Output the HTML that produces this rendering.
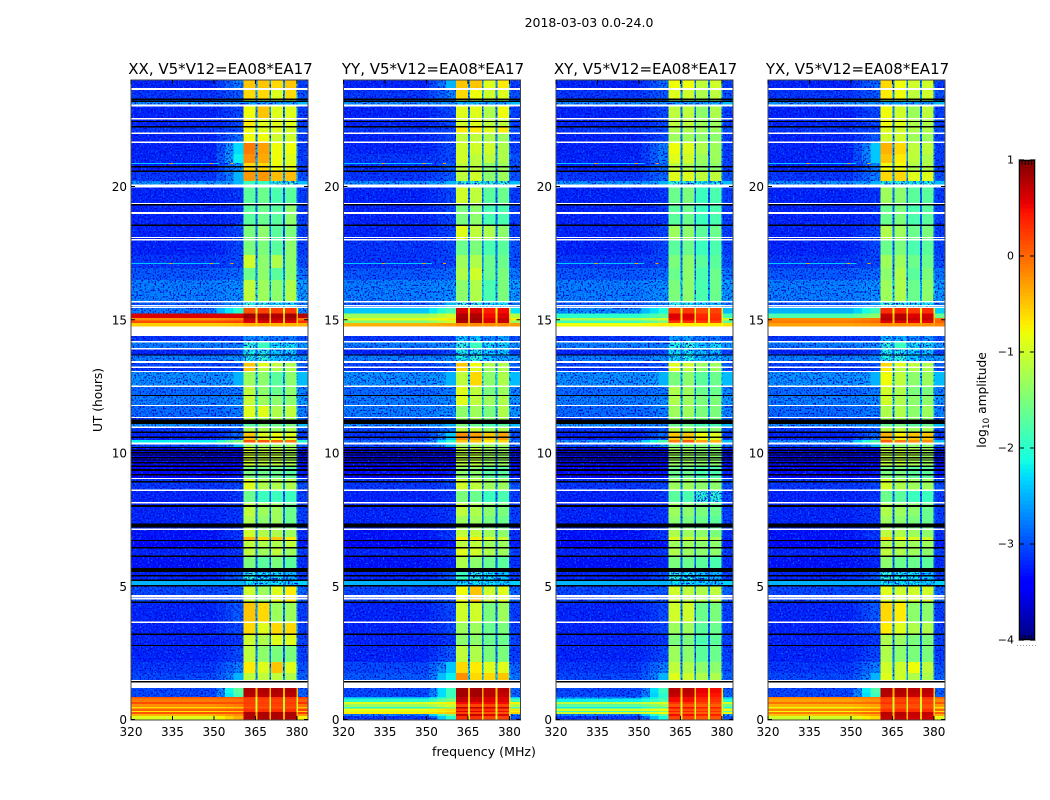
<!DOCTYPE html>
<html>
<head>
<meta charset="utf-8">
<title>2018-03-03 dynamic spectra</title>
<style>
html,body{margin:0;padding:0;background:#fff;}
svg{display:block;}
text{font-family:"DejaVu Sans","Liberation Sans",sans-serif;fill:#000;}
</style>
</head>
<body>
<svg id="chart" xmlns="http://www.w3.org/2000/svg" width="1050" height="800" viewBox="0 0 1050 800">
<defs>
<filter id="speckle" filterUnits="userSpaceOnUse" x="0" y="0" width="1050" height="800" color-interpolation-filters="sRGB">
<feTurbulence type="fractalNoise" baseFrequency="0.6" numOctaves="1" seed="4" result="n"/>
<feColorMatrix in="n" type="matrix" values="0 0 0 0 0  0 0 0 0 0.42  0 0 0 0 1  5 0 0 0 -2.7" result="light"/>
<feColorMatrix in="n" type="matrix" values="0 0 0 0 0  0 0 0 0 0  0 0 0 0 0.8  0 5 0 0 -2.5" result="dark"/>
<feMerge result="m"><feMergeNode in="light"/><feMergeNode in="dark"/></feMerge>
<feComposite in="m" in2="SourceAlpha" operator="in"/>
</filter>
</defs>
<text x="589" y="27" font-size="12.5" text-anchor="middle">2018-03-03 0.0-24.0</text>
<text x="484" y="756" font-size="12.6" text-anchor="middle">frequency (MHz)</text>
<text x="102" y="400" font-size="12.2" text-anchor="middle" transform="rotate(-90 102 400)">UT (hours)</text>
<text x="986" y="400" font-size="12.2" text-anchor="middle" transform="rotate(-90 986 400)">log<tspan font-size="9" dy="3">10</tspan><tspan dy="-3"> amplitude</tspan></text>
</svg>
<script>
const rowTopHours = [24.00,23.66,23.29,23.19,23.06,22.57,22.23,21.97,21.63,21.22,20.88,20.54,20.21,20.02,19.34,18.56,17.99,17.43,16.94,16.49,15.70,15.46,15.23,15.07,14.97,14.88,14.75,14.39,14.16,13.90,13.68,13.41,13.23,13.06,12.48,12.14,11.76,11.35,11.09,10.94,10.75,10.49,10.39,10.23,9.51,9.02,8.61,8.12,7.64,7.11,6.85,6.74,6.47,6.14,5.68,5.53,5.20,5.01,4.37,3.66,3.21,2.76,2.16,1.74,1.45,1.18,1.00,0.84,0.79,0.66,0.58,0.47,0.41,0.32,0.28,0.21,0.13,0.00];
const channelEdges = [320,351,354,357,360.6,365.1,365.7,370,370.7,375,375.7,379.9,380.4,384];
const flaggedHours = [[23.69,23.63],[23.07,23.00],[22.57,22.52],[22.02,21.97],[21.68,21.63],[20.07,19.96],[19.39,19.34],[19.04,18.97],[18.11,18.07],[18.03,17.99],[15.70,15.65],[15.56,15.52],[15.50,15.45],[14.75,14.39],[14.20,14.15],[13.94,13.90],[13.46,13.38],[13.24,13.19],[13.08,13.04],[12.54,12.48],[11.81,11.76],[11.36,11.31],[10.99,10.93],[10.39,10.31],[9.07,9.02],[8.63,8.59],[8.16,8.11],[7.17,7.11],[4.67,4.60],[4.57,4.51],[3.67,3.62],[1.49,1.44],[1.38,1.18]];
const maskedHours = [[23.30,23.25],[23.22,23.18],[22.46,22.43],[22.27,22.23],[20.77,20.72],[20.60,20.55],[19.34,19.30],[18.58,18.52],[13.70,13.65],[12.18,12.14],[11.26,11.09],[10.80,10.75],[10.62,10.58],[10.23,10.18],[10.13,10.08],[10.04,9.99],[9.95,9.90],[9.85,9.80],[9.76,9.71],[9.66,9.61],[9.53,9.49],[9.40,9.33],[9.21,9.17],[8.95,8.91],[8.05,7.97],[7.35,7.21],[6.74,6.70],[6.47,6.44],[6.15,6.11],[5.68,5.53],[5.42,5.38],[5.25,5.21],[5.04,4.99],[4.42,4.37],[3.23,3.18],[2.80,2.76],[1.44,1.38]];
const rfiHours = [20.87,17.12,13.06];
const rfiFreqs = [334,348.5,356];
const xTicks = [320,335,350,365,380];
const yTicks = [0,5,10,15,20];
const colorbarTicks = [1,0,-1,-2,-3,-4];
const polarizations = ["XX","YY","XY","YX"];
const baselineLabel = "V5*V12=EA08*EA17";

/* each row: background, shoulder, band1, band2, band3, band4 (log10 amplitude) */
const levelsXX = [
[-3.2,-2.7,-.5,-.5,-.6,-.5],[-3.1,-2.9,-.6,-.6,-.9,-.6],[-3,-2.9,-1.2,-1.2,-1.2,-1.2],[-2.6,-2.6,-2.5,-2.5,-2.5,-2.5],[-3.2,-3,-.8,-.5,-.9,-.9],
[-3.2,-3,-.7,-.9,-.9,-.9],[-3.1,-3,-.8,-.9,-.9,-1],[-3.2,-2.8,-.8,-.8,-1,-1],[-3.2,-2.3,-.1,-.3,-.8,-.8],[-3.2,-2.2,-.2,-.35,-.8,-.9],
[-3.2,-2.6,-.6,-.6,-.8,-.9],[-3.1,-2.5,-.25,-.25,-.45,-.45],[-2.6,-2.5,-1.9,-1.9,-2,-2],[-3.2,-3.1,-1.7,-1.6,-1.8,-1.7],[-3.2,-3.1,-1.7,-1.6,-1.7,-1.4],
[-3.2,-3,-1.5,-1.4,-1.7,-1.5],[-3.2,-3,-1.5,-1.5,-1.7,-1.4],[-3.1,-3,-1,-1.4,-1.2,-1.4],[-2.9,-2.8,-1.6,-1.4,-1.7,-1.4],[-2.7,-2.6,-1.1,-1.3,-1.4,-1.2],
[-2.9,-2.6,-2,-2,-2.2,-2.2],[-2.7,-2,.1,.2,.2,.25],[.6,.6,.85,.85,.8,.85],[-.2,-.1,.7,.75,.7,.75],[.15,.2,.6,.6,.6,.6],
[-.55,-.5,-.4,-.4,-.4,-.4],[-3,-3,-3,-3,-3,-3],[-3.1,-3,-2.6,-2.6,-2.7,-2.7],[-2.7,-2.7,-2,-1.9,-2.2,-2.2],[-3.2,-3,-2.1,-2.1,-2.3,-2.3],
[-2.7,-2.6,-2.1,-2,-2.3,-2.4],[-3,-2.9,-.5,-.9,-1.1,-1.2],[-3.1,-3,-.5,-1.1,-1.2,-1.2],[-2.6,-2.5,-1.3,-1.4,-1.7,-1.4],[-2.8,-2.7,-1.1,-1.4,-1.6,-1.4],
[-2.7,-2.6,-1.05,-1.3,-1.4,-1.4],[-2.8,-2.7,-.9,-.9,-1.2,-1.1],[-3,-3,-1.2,-1.3,-1.3,-1.3],[-2.6,-2.6,-1.7,-1.5,-1.6,-1.5],[-3.1,-2.9,-1.2,-1.2,-1.3,-1.2],
[-3.2,-2.8,-.5,-.9,-.8,-.9],[-2.2,-1.5,.1,.1,0,-.1],[-3,-2.5,-1.3,-1.3,-1.3,-1.3],[-3.5,-3.4,-1,-1.1,-1.1,-1.2],[-3.4,-3.3,-1.5,-1.6,-1.6,-1.7],
[-3.1,-3,-.9,-1.2,-1.2,-1.2],[-3.2,-3.1,-1.6,-1.9,-1.9,-1.9],[-3.2,-3.1,-1.1,-1.3,-1.3,-1.6],[-3.2,-3.1,-1.2,-1.4,-1.3,-1.6],[-3.3,-3.1,-1,-1.2,-1.2,-1.3],
[-3.3,-3.1,-.4,-.6,-.5,-.7],[-3.4,-3.3,-1.1,-1.2,-1.2,-1.1],[-3.2,-3.1,-1.1,-1.3,-1.1,-1.3],[-3.3,-3.2,-1.5,-1.7,-1.5,-1.7],[-3.4,-3.4,-2,-2,-2,-2],
[-3.2,-2.9,-2,-2.2,-2.2,-2.4],[-2.5,-2.5,-2.2,-2.2,-2.2,-2.3],[-3,-2.9,-1,-1.3,-.9,-.7],[-3.2,-2.9,-.5,-.6,-1.3,-1.3],[-3.2,-3,-.6,-.9,-.6,-.6],
[-3.2,-3.1,-1,-1.2,-.9,-.9],[-3.2,-3,-1.1,-1.4,-1.5,-1.5],[-3.1,-2.7,-.7,-.9,-.5,-.9],[-3,-2.5,-1.1,-1.1,-1.1,-1.2],[-3,-3,-3,-3,-3,-3],
[-3,-1.7,.8,.8,.8,.8],[-3,-1.8,.75,.75,.75,.75],[.1,.1,.3,.3,.3,.3],[-.1,-.05,.2,.2,.2,.2],[.15,.15,.25,.25,.25,.25],
[-.2,-.1,.2,.2,.2,.2],[-.6,-.5,.1,.1,.1,.1],[.05,.1,.3,.3,.3,.3],[-.7,-.5,.3,.3,.3,.3],[.1,.1,.8,.8,.8,.8],
[-.4,-.2,.8,.8,.8,.8],[-.9,-.4,.8,.8,.8,.8]];

const levelsYY = [
[-3.2,-2.5,-.5,-.5,-.9,-.7],[-3.1,-2.7,-.6,-.8,-1,-.9],[-3,-2.8,-1.2,-1.2,-1.3,-1.3],[-2.6,-2.6,-2.4,-2.4,-2.5,-2.5],[-3.2,-3,-.9,-.9,-1.2,-.8],
[-3.2,-3,-1,-.9,-1.1,-1.1],[-3.1,-3,-.7,-.7,-.9,-.7],[-3.2,-3,-1.1,-1.1,-1.2,-1.3],[-3.2,-3,-1,-1,-1,-1.2],[-3.1,-3,-1,-1.1,-1.1,-1.2],
[-3.1,-2.9,-1.1,-1.1,-1.4,-1.3],[-3.1,-2.9,-1.1,-1,-1.4,-1.3],[-2.6,-2.5,-2,-2,-2,-2],[-3.2,-3,-1,-1.1,-1.7,-1.6],[-3.2,-3,-1.5,-1.4,-1.8,-1.8],
[-3.2,-3,-.9,-1.1,-1.2,-1.4],[-3.1,-3,-1.6,-1.5,-1.8,-1.7],[-3.1,-3,-1.3,-1.2,-1.6,-1.6],[-2.9,-2.8,-1.2,-1,-1.6,-1.5],[-2.7,-2.6,-1.4,-1.2,-1.8,-1.5],
[-2.9,-2.5,-2,-2,-2.2,-2.2],[-2.4,-1.8,.6,.6,.4,.5],[-1.3,-1,.8,.8,.5,.6],[-.9,-.7,.85,.85,.6,.7],[-1.5,-1,.8,.8,.6,.7],
[-.4,-.3,-.2,-.2,-.2,-.2],[-3,-3,-3,-3,-3,-3],[-3.1,-3,-2.3,-2.3,-2.6,-2.5],[-2.7,-2.6,-2,-1.9,-2.2,-2.2],[-3.2,-3,-2.1,-2.1,-2.3,-2.3],
[-2.7,-2.6,-2.1,-2,-2.3,-2.4],[-3,-2.8,-.5,-.8,-1.2,-1.2],[-3.1,-3,-.6,-.9,-1.3,-1.2],[-2.6,-2.5,-1.1,-.6,-1.4,-1.2],[-2.8,-2.7,-.9,-1.1,-1.5,-1.3],
[-2.7,-2.6,-.9,-1.1,-1.3,-1.2],[-2.7,-2.6,-1.4,-1.3,-1.5,-1.2],[-3,-3,-1.3,-1.3,-1.4,-1.3],[-2.6,-2.5,-1.5,-1.6,-1.8,-1.7],[-3,-2.7,-1.1,-1.1,-1.3,-1.2],
[-3.1,-2.4,-.2,-.3,-.5,-.3],[-2.8,-2,-.5,-.5,-.7,-.6],[-3,-2.5,-1.3,-1.3,-1.3,-1.3],[-3.5,-3.4,-1.1,-1.1,-1.3,-1.3],[-3.4,-3.3,-1.4,-1.4,-1.7,-1.7],
[-3.1,-3,-1,-1.1,-1.3,-1.3],[-3.2,-3.1,-1.5,-1.6,-1.9,-1.8],[-3.2,-3.1,-1.1,-1.2,-1.4,-1.5],[-3.2,-3.1,-1.3,-1.3,-1.5,-1.6],[-3.3,-3.1,-1.1,-1.1,-1.3,-1.4],
[-3.3,-3.1,-.7,-.7,-.9,-1],[-3.4,-3.3,-1.1,-1.1,-1.3,-1.3],[-3.2,-3.1,-.9,-1,-1.2,-1.3],[-3.3,-3.2,-1.2,-1.4,-1.6,-1.7],[-3.4,-3.4,-2,-2,-2,-2],
[-3.2,-2.9,-1.9,-2,-2.2,-2.3],[-2.5,-2.5,-2.2,-2.2,-2.2,-2.3],[-3,-2.9,-.8,-.5,-1,-.9],[-3.2,-3,-1,-1,-1.5,-1.3],[-3.2,-3,-1.3,-1.3,-1.6,-1.5],
[-3.2,-3.1,-1.4,-1.4,-1.6,-1.6],[-3.2,-2.9,-1.1,-1.2,-1.5,-1.5],[-3,-2.4,-.6,-.7,-.9,-.9],[-2.9,-2.2,-.2,-.6,-.6,-.5],[-3,-3,-3,-3,-3,-3],
[-3,-1.9,.85,.85,.75,.75],[-3,-1.9,.85,.85,.75,.7],[-2.5,-1.8,.7,.7,.6,.6],[-2,-1.5,.7,.7,.6,.6],[-.9,-.7,.5,.5,.5,.5],
[-1.3,-1,.2,.2,.2,.2],[-2,-1.5,.75,.75,.7,.7],[-.8,-.6,.3,.3,.3,.2],[-.9,-.7,.6,.6,.5,.5],[-.7,-.5,.2,.2,.1,.1],
[-2.7,-1.5,.7,.7,.6,.6],[-3.1,-2,.3,.3,.2,.2]];

const levelsXY = [
[-3.2,-2.8,-.8,-.8,-1.1,-1],[-3.1,-2.9,-.9,-1,-1.2,-1.1],[-3,-2.9,-1.4,-1.4,-1.5,-1.5],[-2.6,-2.6,-2.5,-2.5,-2.5,-2.5],[-3.2,-3,-1.1,-1.1,-1.4,-1.2],
[-3.2,-3,-1.1,-1.1,-1.3,-1.3],[-3.1,-3,-1.2,-1.2,-1.3,-1.3],[-3.2,-3,-1.3,-1.3,-1.4,-1.4],[-3.2,-2.7,-.8,-.9,-1.2,-1.3],[-3.2,-2.7,-.9,-1,-1.3,-1.3],
[-3.2,-2.8,-1.1,-1.2,-1.4,-1.4],[-3.1,-2.8,-.9,-.9,-1.1,-1.1],[-2.6,-2.5,-2,-2,-2.1,-2.1],[-3.2,-3.1,-1.6,-1.5,-1.9,-1.8],[-3.2,-3.1,-1.7,-1.6,-1.9,-1.8],
[-3.2,-3,-1.3,-1.4,-1.7,-1.6],[-3.2,-3,-1.7,-1.6,-1.9,-1.8],[-3.1,-3,-1.5,-1.4,-1.7,-1.7],[-2.9,-2.8,-1.6,-1.4,-1.8,-1.6],[-2.7,-2.6,-1.5,-1.4,-1.8,-1.6],
[-2.9,-2.7,-2.1,-2.1,-2.3,-2.3],[-2.6,-2.1,.2,.25,.15,.2],[-2,-1.7,.6,.6,.35,.3],[-1.2,-1,.55,.55,.4,.35],[-1.9,-1.5,.3,.3,.25,.2],
[-.8,-.7,-.7,-.7,-.7,-.7],[-3,-3,-3,-3,-3,-3],[-3.1,-3,-2.5,-2.5,-2.7,-2.7],[-2.7,-2.7,-2.1,-2,-2.3,-2.2],[-3.2,-3,-2.2,-2.2,-2.4,-2.4],
[-2.7,-2.6,-2.2,-2.1,-2.4,-2.4],[-3,-2.9,-.9,-1,-1.3,-1.3],[-3.1,-3,-.9,-1.1,-1.4,-1.3],[-2.6,-2.5,-1.5,-1.4,-1.7,-1.6],[-2.8,-2.7,-1.2,-1.3,-1.6,-1.6],
[-2.7,-2.6,-1.2,-1.3,-1.5,-1.5],[-2.8,-2.7,-1.3,-1.3,-1.5,-1.5],[-3,-3,-1.4,-1.4,-1.5,-1.5],[-2.6,-2.6,-1.6,-1.6,-1.8,-1.8],[-3.1,-2.9,-1.2,-1.3,-1.4,-1.4],
[-3.2,-2.8,-.5,-.5,-.8,-.9],[-2.6,-1.8,-.1,.05,-.3,-.4],[-3,-2.6,-1.5,-1.5,-1.5,-1.5],[-3.5,-3.4,-1.3,-1.3,-1.4,-1.4],[-3.4,-3.3,-1.6,-1.6,-1.8,-1.8],
[-3.1,-3,-1.3,-1.3,-1.4,-1.4],[-3.2,-3.1,-1.7,-1.8,-2,-2],[-3.2,-3.1,-1.3,-1.4,-1.5,-1.6],[-3.2,-3.1,-1.4,-1.5,-1.6,-1.7],[-3.3,-3.1,-1.2,-1.3,-1.4,-1.5],
[-3.3,-3.1,-.9,-1,-1.1,-1.2],[-3.4,-3.3,-1.3,-1.3,-1.4,-1.4],[-3.2,-3.1,-1.2,-1.3,-1.4,-1.4],[-3.3,-3.2,-1.5,-1.6,-1.7,-1.8],[-3.4,-3.4,-2,-2,-2,-2],
[-3.2,-3,-2,-2.1,-2.3,-2.4],[-2.5,-2.5,-2.2,-2.2,-2.3,-2.3],[-3,-2.9,-1,-1.1,-1.2,-1.1],[-3.2,-3,-1,-1,-1.6,-1.5],[-3.2,-3,-1.3,-1.3,-1.7,-1.6],
[-3.2,-3.1,-1.5,-1.5,-1.8,-1.7],[-3.2,-3,-1.3,-1.4,-1.7,-1.6],[-3.1,-2.7,-1.1,-1.2,-1.4,-1.4],[-3,-2.5,-.9,-1,-1.2,-1.2],[-3,-3,-3,-3,-3,-3],
[-3,-1.9,.75,.75,.55,.5],[-3,-2,.7,.7,.5,.45],[-2.6,-2,.5,.5,.4,.35],[-2.2,-1.8,.5,.5,.35,.3],[-1.1,-.9,.3,.3,.2,.2],
[-1.7,-1.3,.1,.1,.05,.05],[-2.2,-1.8,.5,.5,.4,.4],[-.9,-.8,.15,.15,.1,.1],[-1.9,-1.5,.4,.4,.3,.3],[-1,-.8,.1,.1,.05,.05],
[-2.7,-1.7,.5,.5,.4,.4],[-3.1,-2.1,.2,.2,.1,.1]];

const levelsYX = [
[-3.2,-2.8,-.6,-.8,-1,-1],[-3.1,-2.9,-.7,-.8,-1.1,-1],[-3,-2.9,-1.3,-1.3,-1.4,-1.4],[-2.6,-2.6,-2.5,-2.5,-2.5,-2.5],[-3.2,-3,-.8,-1,-1.3,-1.1],
[-3.2,-3,-.8,-.9,-1.2,-1.2],[-3.1,-3,-.9,-1,-1.2,-1.2],[-3.2,-2.9,-1,-1,-1.3,-1.3],[-3.2,-2.4,-.4,-.6,-1.1,-1.1],[-3.2,-2.4,-.5,-.7,-1.1,-1.2],
[-3.2,-2.7,-.8,-.8,-1.2,-1.2],[-3.1,-2.7,-.6,-.6,-.9,-.9],[-2.6,-2.5,-2,-2,-2.1,-2.1],[-3.2,-3.1,-1.3,-1.4,-1.7,-1.7],[-3.2,-3.1,-1.6,-1.5,-1.8,-1.7],
[-3.2,-3,-1.2,-1.3,-1.6,-1.5],[-3.2,-3,-1.6,-1.5,-1.8,-1.7],[-3.1,-3,-1.3,-1.3,-1.6,-1.6],[-2.9,-2.8,-1.4,-1.2,-1.7,-1.5],[-2.7,-2.6,-1.3,-1.2,-1.6,-1.4],
[-2.9,-2.6,-2,-2,-2.2,-2.2],[-2.5,-1.9,.3,.35,.25,.3],[-1.8,-1.4,.7,.75,.6,.65],[-.2,-.1,.75,.8,.7,.7],[-.1,0,.6,.6,.55,.55],
[-.3,-.25,-.2,-.2,-.2,-.2],[-3,-3,-3,-3,-3,-3],[-3.1,-3,-2.4,-2.4,-2.6,-2.6],[-2.7,-2.6,-2,-1.9,-2.2,-2.2],[-3.2,-3,-2.1,-2.1,-2.3,-2.3],
[-2.7,-2.6,-2.1,-2,-2.3,-2.4],[-3,-2.9,-.6,-.9,-1.1,-1.2],[-3.1,-3,-.7,-1.1,-1.2,-1.2],[-2.6,-2.5,-.8,-1.1,-1.4,-1.3],[-2.8,-2.7,-1,-1.2,-1.5,-1.5],
[-2.7,-2.6,-1,-1.2,-1.4,-1.4],[-2.8,-2.7,-1.2,-1.2,-1.4,-1.3],[-3,-3,-1.3,-1.3,-1.4,-1.4],[-2.6,-2.6,-1.6,-1.5,-1.7,-1.6],[-3.1,-2.9,-1.1,-1.1,-1.3,-1.2],
[-3.2,-2.8,-.4,-.7,-.5,-.5],[-2.6,-1.8,.05,-.1,-.2,-.2],[-3,-2.5,-1.4,-1.4,-1.4,-1.4],[-3.5,-3.4,-1.1,-1.1,-1.2,-1.3],[-3.4,-3.3,-1.5,-1.5,-1.7,-1.7],
[-3.1,-3,-1,-1.2,-1.3,-1.3],[-3.2,-3.1,-1.6,-1.7,-1.9,-1.9],[-3.2,-3.1,-1.2,-1.3,-1.4,-1.6],[-3.2,-3.1,-1.3,-1.4,-1.5,-1.6],[-3.3,-3.1,-1.1,-1.2,-1.3,-1.4],
[-3.3,-3.1,-.6,-.8,-.9,-1],[-3.4,-3.3,-1.2,-1.2,-1.3,-1.3],[-3.2,-3.1,-1.1,-1.2,-1.3,-1.4],[-3.3,-3.2,-1.4,-1.6,-1.6,-1.7],[-3.4,-3.4,-2,-2,-2,-2],
[-3.2,-2.9,-2,-2.1,-2.2,-2.3],[-2.5,-2.5,-2.2,-2.2,-2.2,-2.3],[-3,-2.9,-.9,-1,-1,-1],[-3.2,-2.9,-.6,-.7,-1.4,-1.4],[-3.2,-3,-.7,-.9,-1.2,-1.2],
[-3.2,-3.1,-1.2,-1.3,-1.5,-1.5],[-3.2,-3,-1.2,-1.4,-1.5,-1.5],[-3.1,-2.7,-1,-1,-.8,-1.1],[-3,-2.5,-.9,-1,-1.2,-1.2],[-3,-3,-3,-3,-3,-3],
[-3,-1.8,.8,.8,.75,.75],[-3,-1.9,.75,.75,.7,.7],[-.1,-.1,.3,.3,.3,.3],[-.3,-.2,.2,.2,.2,.2],[-.05,0,.3,.3,.25,.25],
[-.4,-.3,.15,.15,.15,.15],[-.8,-.6,.1,.1,.1,.1],[-.15,-.1,.3,.3,.3,.3],[-.8,-.6,.3,.3,.3,.3],[-.1,0,.75,.75,.7,.7],
[-.5,-.3,.75,.75,.7,.7],[-1,-.6,.7,.7,.65,.65]];

const panelLevels = [levelsXX, levelsYY, levelsXY, levelsYX];

const NS = "http://www.w3.org/2000/svg";
const svg = document.getElementById("chart");
const panelLeft = [131,343.5,556,768];
const panelW = 177, plotTop = 80, plotBottom = 720;
const cbLeft = 1019, cbRight = 1035, cbTop = 160, cbBottom = 640;

function xScale(p, f){ return panelLeft[p] + (f - 320) * panelW / 64; }
function yScale(h){ return 719.5 - h * 26.65; }
function cbScale(v){ return cbBottom - (v + 4) * (cbBottom - cbTop) / 5; }
function clamp(v){ return Math.max(0, Math.min(1, v)); }
function jet(v){
  const t = clamp((v + 4) / 5);
  const r = t < .35 ? 0 : t < .66 ? (t - .35) / .31 : t < .89 ? 1 : 1 - (t - .89) / .11 * .5;
  const g = t < .125 ? 0 : t < .375 ? (t - .125) / .25 : t < .64 ? 1 : t < .91 ? 1 - (t - .64) / .27 : 0;
  const b = t < .11 ? .5 + t / .11 * .5 : t < .34 ? 1 : t < .65 ? 1 - (t - .34) / .31 : 0;
  return "rgb(" + Math.round(r * 255) + "," + Math.round(g * 255) + "," + Math.round(b * 255) + ")";
}
function cellLevel(row, c){
  const bg = row[0], sh = row[1];
  const gap = k => row[k] > 0 ? row[k] - 1.2 : bg * .75 + row[k] * .25;
  switch (c) {
    case 0: return bg;
    case 1: return bg * .7 + sh * .3;
    case 2: return bg * .35 + sh * .65;
    case 3: return sh;
    case 4: return row[2];
    case 5: return gap(2);
    case 6: return row[3];
    case 7: return gap(3);
    case 8: return row[4];
    case 9: return gap(4);
    case 10: return row[5];
    case 11: return gap(5);
    default: return bg + .15;
  }
}
function makeEl(tag, attrs, parent){
  const e = document.createElementNS(NS, tag);
  for (const k in attrs) e.setAttribute(k, attrs[k]);
  parent.appendChild(e);
  return e;
}

polarizations.forEach(function(pol, p){
  const L = panelLeft[p], R = L + panelW;
  const panel = makeEl("g", {}, svg);
  
  

  const heat = makeEl("g", {"shape-rendering":"crispEdges"}, panel);
  
  
  const speckle = makeEl("g", {"filter":"url(#speckle)","shape-rendering":"crispEdges"}, panel);
  
  

  panelLevels[p].forEach(function(row, r){
    const y0 = yScale(rowTopHours[r]), y1 = yScale(rowTopHours[r + 1]);
    for (let c = 0; c < channelEdges.length - 1; c++) {
      const v = cellLevel(row, c);
      const x0 = xScale(p, channelEdges[c]), x1 = xScale(p, channelEdges[c + 1]);
      const cell = makeEl("rect", {x:x0, y:y0, width:x1 - x0, height:y1 - y0, fill:jet(v)}, heat);
      
      
      const isBackground = c < 4 || c === 12;
      if (v > -3.9 && ((isBackground && v < -2.5) || (!isBackground && v < -1.9))) {
        makeEl("rect", {x:x0, y:y0, width:x1 - x0, height:y1 - y0, fill:"#000"}, speckle);
      }
    }
  });

  rfiHours.forEach(function(h){
    const line = makeEl("rect", {x:L, y:yScale(h) - .5, width:xScale(p, 352) - L, height:1, fill:jet(-2.4), "shape-rendering":"crispEdges"}, panel);
    
    
    rfiFreqs.forEach(function(f){
      const spot = makeEl("rect", {x:xScale(p, f), y:yScale(h) - .5, width:3, height:1, fill:jet(-0.3), "shape-rendering":"crispEdges"}, panel);
      
      
    });
  });

  flaggedHours.forEach(function(s){
    const f = makeEl("rect", {x:L, y:yScale(s[0]), width:panelW, height:Math.max(1.3, yScale(s[1]) - yScale(s[0])), fill:"#fff", "shape-rendering":"crispEdges"}, panel);
    
    
  });
  maskedHours.forEach(function(s){
    const m = makeEl("rect", {x:L, y:yScale(s[0]), width:panelW, height:Math.max(1.3, yScale(s[1]) - yScale(s[0])), fill:"#000", "shape-rendering":"crispEdges"}, panel);
    
    
  });

  const frame = makeEl("rect", {x:L, y:plotTop, width:panelW, height:plotBottom - plotTop, fill:"none", stroke:"#444", "stroke-width":1}, panel);
  
  

  xTicks.forEach(function(t){
    const x = xScale(p, t);
    const tb = makeEl("line", {x1:x, x2:x, y1:plotBottom, y2:plotBottom - 4, stroke:"#000"}, panel);
    
    
    const tt = makeEl("line", {x1:x, x2:x, y1:plotTop, y2:plotTop + 4, stroke:"#000"}, panel);
    
    
    const lab = makeEl("text", {x:x, y:736, "font-size":12, "text-anchor":"middle"}, panel);
    
    
    lab.textContent = t;
  });
  yTicks.forEach(function(t){
    const y = yScale(t);
    const tl = makeEl("line", {x1:L, x2:L + 4, y1:y, y2:y, stroke:"#000"}, panel);
    
    
    const tr = makeEl("line", {x1:R, x2:R - 4, y1:y, y2:y, stroke:"#000"}, panel);
    
    
    const lab = makeEl("text", {x:L - 4, y:y + 4.5, "font-size":12, "text-anchor":"end"}, panel);
    
    
    lab.textContent = t;
  });
  const title = makeEl("text", {x:L + panelW / 2 + 1, y:74, "font-size":15, "text-anchor":"middle"}, panel);
  
  
  title.textContent = pol + ", " + baselineLabel;
});

/* colorbar */
const cb = makeEl("g", {}, svg);


for (let i = 0; i < 120; i++) {
  const v = -4 + (i + .5) * 5 / 120;
  const yTop = cbScale(-4 + (i + 1) * 5 / 120);
  const seg = makeEl("rect", {x:cbLeft, y:yTop, width:cbRight - cbLeft, height:(cbBottom - cbTop) / 120 + .5, fill:jet(v), "shape-rendering":"crispEdges"}, cb);
  
  
}
const cbFrame = makeEl("rect", {x:cbLeft + .5, y:cbTop + .5, width:cbRight - cbLeft - 1, height:cbBottom - cbTop - 1, fill:"none", stroke:"#000", "stroke-width":1}, cb);


const cbOuter = makeEl("rect", {x:cbLeft - .5, y:cbTop - .5, width:cbRight - cbLeft + 1, height:cbBottom - cbTop + 1, fill:"none", stroke:"#bbb", "stroke-width":1}, cb);


colorbarTicks.forEach(function(t){
  const y = cbScale(t);
  const a = makeEl("line", {x1:cbLeft, x2:cbLeft + 5, y1:y, y2:y, stroke:"#000"}, cb);
  
  
  const b = makeEl("line", {x1:cbRight, x2:cbRight - 5, y1:y, y2:y, stroke:"#000"}, cb);
  
  
  const lab = makeEl("text", {x:1014, y:y + 3.5, "font-size":11, "text-anchor":"end"}, cb);
  
  
  lab.textContent = t < 0 ? "\u2212" + (-t) : String(t);
});
for (let i = 0; i < 4; i++) {
  const x = 1022 + i * 3.2;
  const mt = makeEl("line", {x1:x, x2:x, y1:cbTop, y2:cbTop + 5, stroke:"#000"}, cb);
  
  
  const mb = makeEl("line", {x1:x, x2:x, y1:cbBottom, y2:cbBottom - 5, stroke:"#000"}, cb);
  
  
}
for (let i = 0; i < 7; i++) {
  const dot = makeEl("rect", {x:1017 + i * 3, y:645, width:1, height:1, fill:"#999"}, cb);
  
  
}
</script>
</body>
</html>
